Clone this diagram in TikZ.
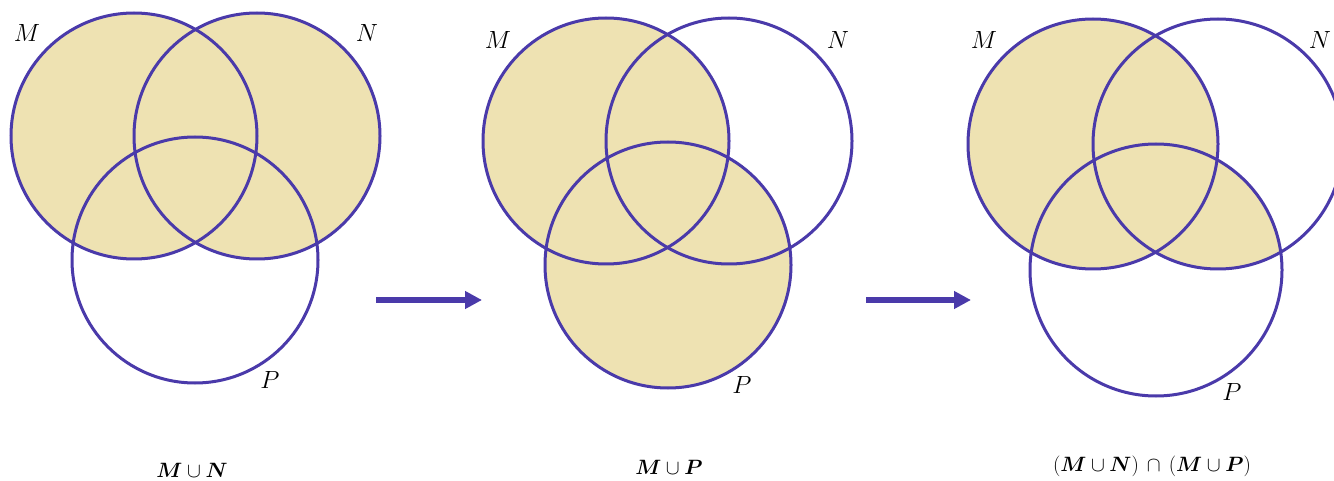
\documentclass[tikz,border=0pt]{standalone}
\usepackage{amsmath,bm}
\usetikzlibrary{arrows.meta}
\definecolor{vline}{HTML}{4A3AAA}
\definecolor{vfill}{HTML}{EEE2B2}
\begin{document}
\begin{tikzpicture}[x=1pt,y=-1pt,
  ring/.style={draw=vline, line width=3pt},
  setlab/.style={font=\fontsize{31}{33}\selectfont, inner sep=0pt},
  caption/.style={font=\fontsize{21}{23}\selectfont, inner sep=0pt},
  flow/.style={draw=vline, line width=5pt, -{Triangle[length=17pt,width=17pt]}}]
\clip (0,0) rectangle (1334,481);
\fill[white] (0,0) rectangle (1334,481);
% ---- diagram 1: M u N
\coordinate (m1) at (134,136);
\coordinate (n1) at (257,136);
\coordinate (p1) at (195,260);
\fill[vfill] (m1) circle (123);
\fill[vfill] (n1) circle (123);
\draw[ring] (m1) circle (123);
\draw[ring] (n1) circle (123);
\draw[ring] (p1) circle (123);
\node[setlab] (lm1) at (27,33) {$M$};
\node[setlab] (ln1) at (367,33) {$N$};
\node[setlab] (lp1) at (270,380) {$P$};
\node[caption] (c1) at (192,470) {$\bm{M}\cup\bm{N}$};
% ---- diagram 2: M u P
\coordinate (m2) at (606,141);
\coordinate (n2) at (729,141);
\coordinate (p2) at (668,265);
\fill[vfill] (m2) circle (123);
\fill[vfill] (p2) circle (123);
\draw[ring] (m2) circle (123);
\draw[ring] (n2) circle (123);
\draw[ring] (p2) circle (123);
\node[setlab] (lm2) at (498,40) {$M$};
\node[setlab] (ln2) at (838,40) {$N$};
\node[setlab] (lp2) at (742,385) {$P$};
\node[caption] (c2) at (669,467) {$\bm{M}\cup\bm{P}$};
% ---- diagram 3: (M u N) n (M u P)
\coordinate (m3) at (1093,144);
\coordinate (n3) at (1218,144);
\coordinate (p3) at (1156,270);
\fill[vfill] (m3) circle (125);
\begin{scope}
  \clip (n3) circle (125);
  \fill[vfill] (p3) circle (126);
\end{scope}
\draw[ring] (m3) circle (125);
\draw[ring] (n3) circle (125);
\draw[ring] (p3) circle (126);
\node[setlab] (lm3) at (984,40) {$M$};
\node[setlab] (ln3) at (1320,40) {$N$};
\node[setlab] (lp3) at (1232,392) {$P$};
\node[caption] (c3) at (1152,466) {$(\bm{M}\cup\bm{N})\,\cap\,(\bm{M}\cup\bm{P})$};
% ---- arrows
\coordinate (a1s) at (376,300);
\coordinate (a1e) at (482,300);
\coordinate (a2s) at (866,300);
\coordinate (a2e) at (971,300);
\draw[flow] (a1s) -- (a1e);
\draw[flow] (a2s) -- (a2e);
\end{tikzpicture}
\end{document}
